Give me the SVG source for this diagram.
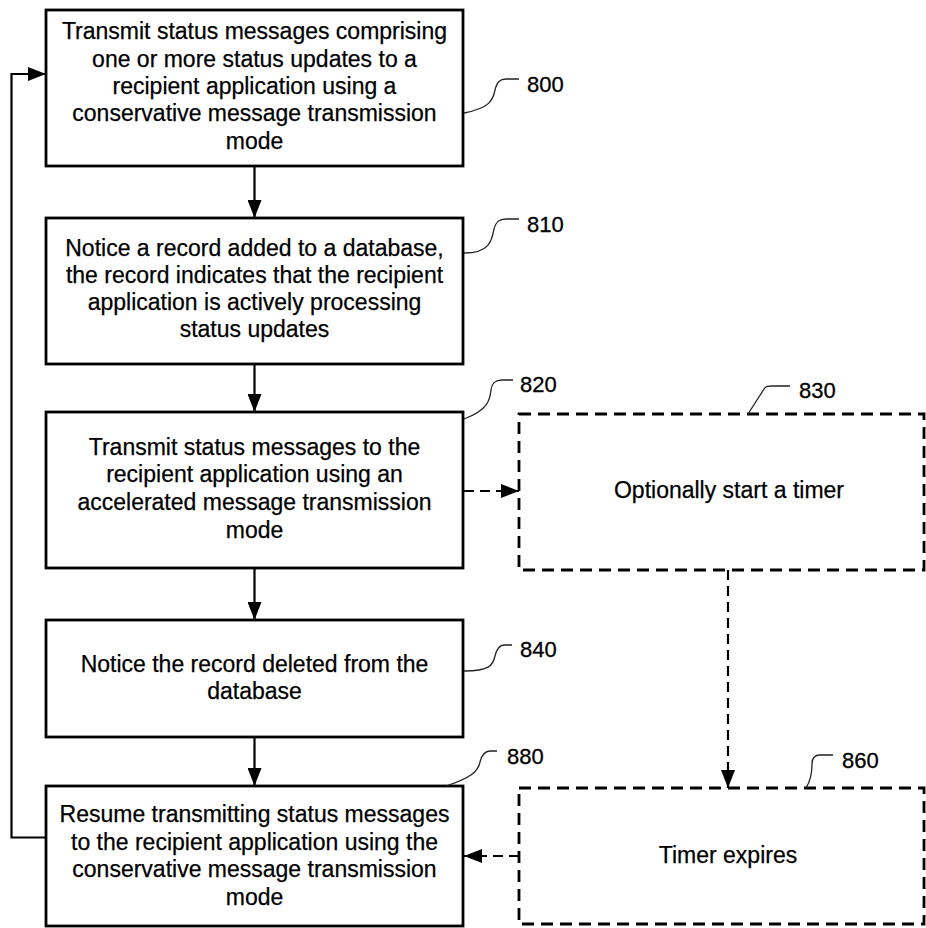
<svg xmlns="http://www.w3.org/2000/svg" width="926" height="928" viewBox="0 0 926 928">
  <defs>
    <marker id="arrow" markerUnits="userSpaceOnUse" markerWidth="20" markerHeight="14" refX="18" refY="7" orient="auto">
      <path d="M0,0 L18,7 L0,14 Z" fill="#000"/>
    </marker>
    <style>
      .box { fill: #fff; stroke: #000; stroke-width: 2.8; }
      .dbox { fill: #fff; stroke: #000; stroke-width: 2.8; stroke-dasharray: 12 7; }
      .txt { font-family: "Liberation Sans", Arial, sans-serif; font-size: 23px; fill: #000; stroke: #000; stroke-width: 0.25; text-anchor: middle; }
      .ref { font-family: "Liberation Sans", Arial, sans-serif; font-size: 22px; fill: #000; stroke: #000; stroke-width: 0.3; }
      .lead { fill: none; stroke: #222; stroke-width: 1.3; }
      .conn { fill: none; stroke: #000; stroke-width: 2.2; }
      .dconn { fill: none; stroke: #000; stroke-width: 2.2; stroke-dasharray: 10 6; }
    </style>
  </defs>

  <!-- connectors -->
  <g id="connectors">
    <path class="conn" d="M254.5,166 V218" marker-end="url(#arrow)"/>
    <path class="conn" d="M254.5,364 V412" marker-end="url(#arrow)"/>
    <path class="conn" d="M254.5,568 V620" marker-end="url(#arrow)"/>
    <path class="conn" d="M254.5,737 V786" marker-end="url(#arrow)"/>
    <path class="conn" d="M46,837.5 H11.5 V74 H46" marker-end="url(#arrow)"/>
    <path class="dconn" d="M464,491 H519" marker-end="url(#arrow)"/>
    <path class="dconn" d="M728,570 V788" marker-end="url(#arrow)"/>
    <path class="dconn" d="M519,856 H464" marker-end="url(#arrow)"/>
  </g>

  <!-- step 800 -->
  <g id="n800">
    <rect class="box" x="46" y="10" width="417" height="156"/>
    <text class="txt" x="254.5" y="39">Transmit status messages comprising</text>
    <text class="txt" x="254.5" y="66.5">one or more status updates to a</text>
    <text class="txt" x="254.5" y="94">recipient application using a</text>
    <text class="txt" x="254.5" y="121">conservative message transmission</text>
    <text class="txt" x="254.5" y="148.5">mode</text>
    <path class="lead" d="M464,113 C490,108 493,100 495,90 C497,82 500,79 506,79 H519"/>
    <text class="ref" x="527" y="92">800</text>
  </g>

  <!-- step 810 -->
  <g id="n810">
    <rect class="box" x="46" y="218" width="417" height="146"/>
    <text class="txt" x="254.5" y="255.5">Notice a record added to a database,</text>
    <text class="txt" x="254.5" y="282.5">the record indicates that the recipient</text>
    <text class="txt" x="254.5" y="309.5">application is actively processing</text>
    <text class="txt" x="254.5" y="336.5">status updates</text>
    <path class="lead" d="M464,253 C490,253 492,240 494,229 C496,221 500,219 506,219 H519"/>
    <text class="ref" x="527" y="232">810</text>
  </g>

  <!-- step 820 -->
  <g id="n820">
    <rect class="box" x="46" y="412" width="417" height="156"/>
    <text class="txt" x="254.5" y="455">Transmit status messages to the</text>
    <text class="txt" x="254.5" y="482">recipient application using an</text>
    <text class="txt" x="254.5" y="510">accelerated message transmission</text>
    <text class="txt" x="254.5" y="538">mode</text>
    <path class="lead" d="M464,419 C488,410 490,400 491,390 C492,382 496,380 502,380 H513"/>
    <text class="ref" x="520" y="392">820</text>
  </g>

  <!-- step 830 (optional) -->
  <g id="n830">
    <rect class="dbox" x="519" y="414" width="405" height="156"/>
    <text class="txt" x="729" y="498">Optionally start a timer</text>
    <path class="lead" d="M748,414 L764,389 C766,386 768,386 772,386 H790"/>
    <text class="ref" x="799" y="398">830</text>
  </g>

  <!-- step 840 -->
  <g id="n840">
    <rect class="box" x="46" y="620" width="417" height="117"/>
    <text class="txt" x="254.5" y="672">Notice the record deleted from the</text>
    <text class="txt" x="254.5" y="699">database</text>
    <path class="lead" d="M464,671 C490,671 493,665 495,656 C497,648 500,645 504,645 H512"/>
    <text class="ref" x="520" y="657">840</text>
  </g>

  <!-- step 860 (optional) -->
  <g id="n860">
    <rect class="dbox" x="519" y="788" width="405" height="136"/>
    <text class="txt" x="728" y="863">Timer expires</text>
    <path class="lead" d="M806,788 C811,780 812,772 812,764 C812,757 815,755 820,755 H833"/>
    <text class="ref" x="842" y="768">860</text>
  </g>

  <!-- step 880 -->
  <g id="n880">
    <rect class="box" x="46" y="786" width="417" height="140"/>
    <text class="txt" x="254.5" y="822">Resume transmitting status messages</text>
    <text class="txt" x="254.5" y="850">to the recipient application using the</text>
    <text class="txt" x="254.5" y="877">conservative message transmission</text>
    <text class="txt" x="254.5" y="905">mode</text>
    <path class="lead" d="M446,786 C470,778 478,772 480,762 C482,754 485,751 490,751 H497"/>
    <text class="ref" x="507" y="764">880</text>
  </g>
</svg>
